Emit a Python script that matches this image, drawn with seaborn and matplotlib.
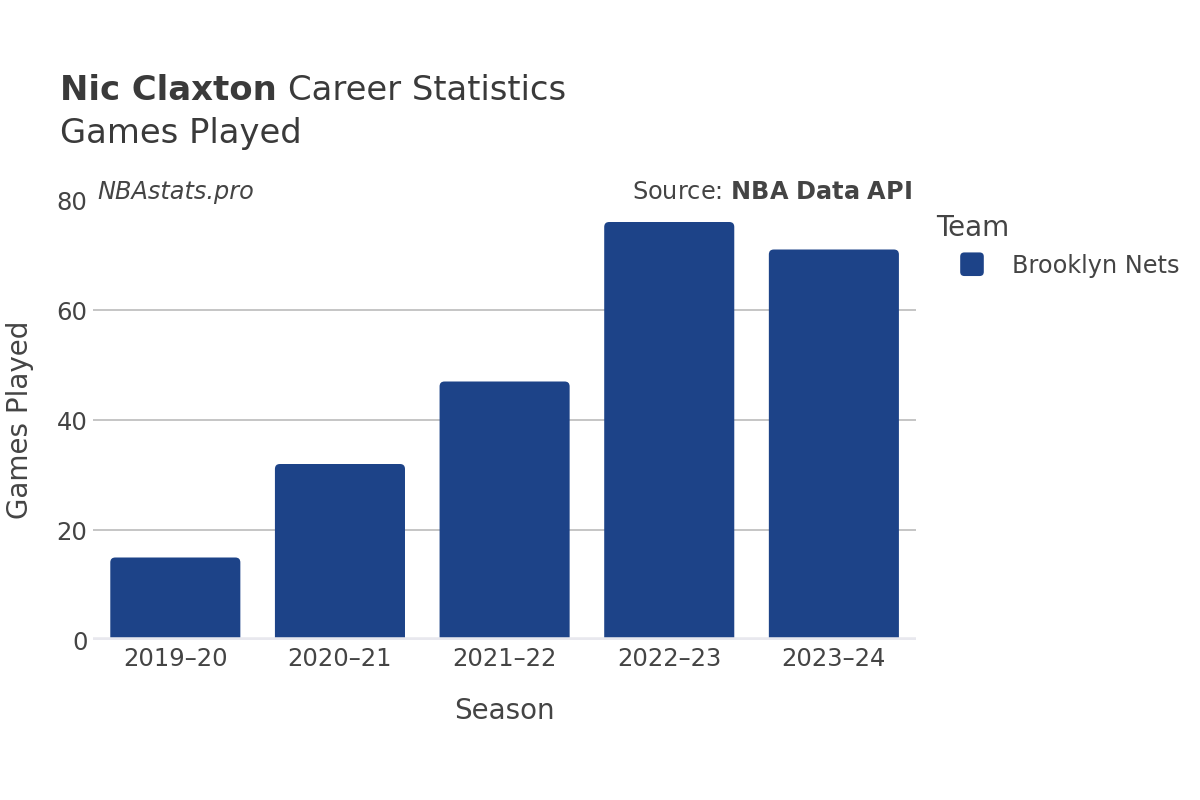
import pandas as pd
import seaborn as sns
import matplotlib.pyplot as plt
from matplotlib.patches import FancyBboxPatch, Patch
from matplotlib.legend_handler import HandlerPatch

seasons = ['2019–20', '2020–21', '2021–22', '2022–23', '2023–24']
games = [15, 32, 47, 76, 71]
team = 'Brooklyn Nets'
bar_color = '#1d4388'

df = pd.DataFrame({'Season': seasons, 'Games Played': games, 'Team': team})

sns.set_theme(style='white')
plt.rcParams['font.family'] = ['DejaVu Sans']

fig = plt.figure(figsize=(12, 8), dpi=100)
ax = fig.add_axes([0.0775, 0.2, 0.686, 0.55])

sns.barplot(data=df, x='Season', y='Games Played', color=bar_color,
            width=0.79, ax=ax, saturation=1)

# swap the bars for rounded-top versions (bottom part gets clipped by the axes)
for p in list(ax.patches):
    x, y = p.get_x(), p.get_y()
    w, h = p.get_width(), p.get_height()
    p.remove()
    rb = FancyBboxPatch((x, y - 2), w, h + 2, boxstyle='round,pad=0,rounding_size=0.03',
                        mutation_aspect=30, facecolor=bar_color, edgecolor='none', zorder=2)
    ax.add_patch(rb)

ax.set_xlim(-0.5, 4.5)
ax.set_ylim(0, 80)
ax.set_yticks([0, 20, 40, 60, 80])
ax.grid(axis='y', color='#bbbbbb', linewidth=1.2)
ax.yaxis.get_gridlines()[-1].set_visible(False)
ax.yaxis.get_gridlines()[0].set_visible(False)
ax.axhline(0, color='#e8e8ee', linewidth=4, zorder=3)
for s in ax.spines.values():
    s.set_visible(False)
ax.tick_params(axis='both', labelsize=17.5, colors='#444444', length=0)
ax.tick_params(axis='y', pad=4)
ax.tick_params(axis='x', pad=5)
ax.set_xlabel('Season', fontsize=20, color='#444444', labelpad=19)
ax.set_ylabel('Games Played', fontsize=20, color='#444444', labelpad=16)

t1 = fig.text(0.05, 0.8865, 'Nic Claxton', fontsize=24.4, fontweight='bold', color='#3a3a3a', va='center')
fig.canvas.draw()
bb = t1.get_window_extent()
fig.text(bb.x1 / 1200 + 0.009, 0.8865, 'Career Statistics', fontsize=24.4, color='#3a3a3a', va='center')
fig.text(0.05, 0.8325, 'Games Played', fontsize=24.4, color='#3a3a3a', va='center')

ax.text(0.005, 1.018, 'NBAstats.pro', transform=ax.transAxes, fontsize=17.3, style='italic',
        color='#444444', va='center', ha='left')
ax.text(0.995, 1.018, 'Source: $\\bf{NBA\\ Data\\ API}$', transform=ax.transAxes, fontsize=17.3,
        color='#444444', va='center', ha='right')


def rounded_square(legend, orig_handle, xdescent, ydescent, width, height, fontsize):
    s = 17
    return FancyBboxPatch((width / 2 - s / 2 + 8.6 - xdescent, height / 2 - s / 2 - ydescent), s, s,
                          boxstyle='round,pad=0,rounding_size=3')


handle = Patch(facecolor=bar_color, edgecolor='none')
leg = fig.legend([handle], [team], title='Team', loc='upper left',
                 bbox_to_anchor=(0.762, 0.76), frameon=False, fontsize=17.3,
                 title_fontsize=20, handletextpad=1.16, alignment='left',
                 handler_map={Patch: HandlerPatch(patch_func=rounded_square)})
for t in leg.get_texts():
    t.set_color('#444444')
leg.get_title().set_color('#444444')

fig.savefig('out.png', dpi=100)
